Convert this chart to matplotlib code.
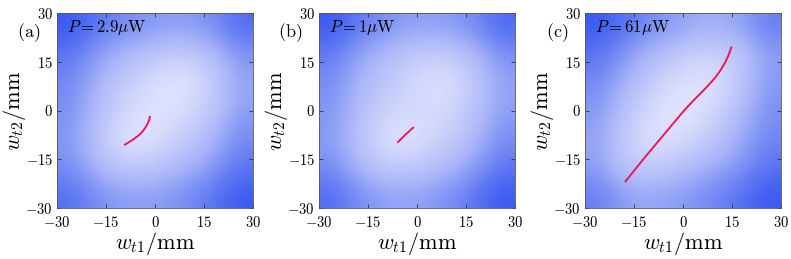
import numpy as np
import matplotlib.pyplot as plt
from matplotlib.colors import LinearSegmentedColormap

plt.rcParams['mathtext.fontset'] = 'cm'
plt.rcParams['font.family'] = 'serif'
plt.rcParams['font.serif'] = ['DejaVu Serif']

# axes ticks
ticks = [-30, -15, 0, 15, 30]
tick_labels = [r'$-30$', r'$-15$', r'$0$', r'$15$', r'$30$']

# panel labels and power text
panel_tags = [r'$\mathrm{(a)}$', r'$\mathrm{(b)}$', r'$\mathrm{(c)}$']
power_text = [r'$P=2.9\mu\mathrm{W}$', r'$P=1\mu\mathrm{W}$', r'$P=61\mu\mathrm{W}$']

# background intensity, coarse grid (rows y=30..-30, cols x=-30..30)
bg_a = np.array([
    [1.00, 0.85, 0.72, 0.65, 0.62, 0.70, 0.90],
    [0.85, 0.62, 0.45, 0.35, 0.28, 0.40, 0.68],
    [0.75, 0.48, 0.28, 0.14, 0.06, 0.25, 0.58],
    [0.70, 0.42, 0.18, 0.10, 0.15, 0.32, 0.62],
    [0.66, 0.34, 0.08, 0.12, 0.28, 0.46, 0.74],
    [0.72, 0.45, 0.30, 0.35, 0.46, 0.62, 0.84],
    [0.88, 0.70, 0.62, 0.62, 0.70, 0.84, 1.00],
])
bg_b = np.array([
    [1.00, 0.82, 0.68, 0.62, 0.62, 0.72, 0.92],
    [0.82, 0.58, 0.42, 0.30, 0.28, 0.42, 0.70],
    [0.72, 0.46, 0.32, 0.18, 0.10, 0.30, 0.60],
    [0.68, 0.40, 0.24, 0.18, 0.18, 0.34, 0.62],
    [0.64, 0.34, 0.10, 0.12, 0.25, 0.44, 0.72],
    [0.72, 0.45, 0.28, 0.32, 0.44, 0.60, 0.84],
    [0.90, 0.70, 0.60, 0.60, 0.68, 0.84, 1.00],
])
bg_c = np.array([
    [1.00, 0.86, 0.70, 0.60, 0.52, 0.58, 0.80],
    [0.86, 0.64, 0.44, 0.30, 0.22, 0.32, 0.62],
    [0.74, 0.48, 0.26, 0.12, 0.10, 0.30, 0.66],
    [0.66, 0.36, 0.14, 0.05, 0.18, 0.42, 0.70],
    [0.60, 0.26, 0.10, 0.16, 0.32, 0.52, 0.76],
    [0.62, 0.32, 0.28, 0.40, 0.52, 0.66, 0.86],
    [0.80, 0.60, 0.58, 0.64, 0.74, 0.86, 1.00],
])

# trajectories
xa = [-9.2, -8.4, -7.6, -6.8, -6.0, -5.2, -4.4, -3.7, -3.1, -2.6, -2.2, -1.9, -1.7, -1.6]
ya = [-10.5, -10.0, -9.5, -9.0, -8.4, -7.8, -7.1, -6.3, -5.5, -4.7, -3.9, -3.2, -2.6, -2.0]
xb = [-5.8, -5.0, -4.2, -3.4, -2.6, -1.9, -1.2]
yb = [-9.7, -8.9, -8.1, -7.3, -6.6, -5.9, -5.3]
xc = [-17.6, -16.0, -14.0, -12.0, -10.0, -8.0, -6.0, -4.0, -2.0, 0.0, 2.0,
      4.0, 6.0, 8.0, 10.0, 11.5, 12.8, 13.9, 14.8]
yc = [-21.8, -19.8, -17.3, -14.8, -12.4, -10.0, -7.6, -5.2, -2.8, -0.4, 1.8,
      3.9, 5.9, 8.0, 10.3, 12.4, 14.6, 16.9, 19.4]

cmap = LinearSegmentedColormap.from_list('wb', ['#efefff', '#a8b4f8', '#3a5af0'])

fig = plt.figure(figsize=(7.91, 2.59), dpi=100)
lefts = [57 / 791, 319 / 791, 585 / 791]
w = 196 / 791
bottom = 51 / 259
h = 195 / 259

for i, (bg, xs, ys) in enumerate([(bg_a, xa, ya), (bg_b, xb, yb), (bg_c, xc, yc)]):
    ax = fig.add_axes([lefts[i], bottom, w, h])
    ax.imshow(bg, extent=[-30, 30, -30, 30], origin='upper', cmap=cmap,
              vmin=0, vmax=1, interpolation='bicubic', aspect='auto')
    ax.plot(xs, ys, color='#e8185a', lw=1.4)
    ax.set_xlim(-30, 30)
    ax.set_ylim(-30, 30)
    ax.set_xticks(ticks)
    ax.set_xticklabels(tick_labels)
    ax.set_yticks(ticks)
    ax.set_yticklabels(tick_labels)
    ax.tick_params(direction='in', top=True, right=True, length=3, width=0.6,
                   labelsize=10.5, color='#333333')
    ax.tick_params(axis='x', pad=5)
    ax.tick_params(axis='y', pad=3)
    for s in ax.spines.values():
        s.set_color('#555555')
        s.set_linewidth(0.6)
    ax.set_xlabel(r'$w_{t1}/\mathrm{mm}$', fontsize=16, labelpad=0)
    ax.set_ylabel(r'$w_{t2}/\mathrm{mm}$', fontsize=16, labelpad=-2)
    ax.text(0.05, 0.925, power_text[i], transform=ax.transAxes, fontsize=12,
            va='center', ha='left')
    ax.text(-0.085, 0.9, panel_tags[i], transform=ax.transAxes, fontsize=13,
            va='center', ha='right')

plt.savefig('out.png', dpi=100)
